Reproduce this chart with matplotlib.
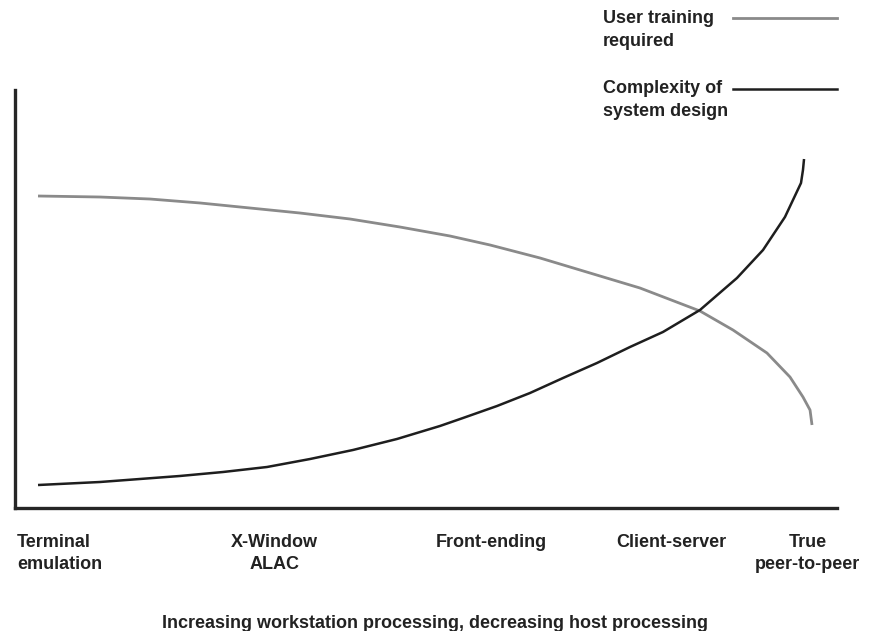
import matplotlib
matplotlib.use("Agg")
import matplotlib.pyplot as plt
from matplotlib.lines import Line2D

# position along the processing spectrum (0-100) and relative level (0-100)
training_x = [2.80, 10.34, 16.42, 22.51, 28.59, 34.67, 40.75, 46.84, 52.92, 57.79,
              63.87, 69.95, 76.03, 83.33, 87.35, 91.48, 94.28, 95.86, 96.72, 96.96]
training_y = [74.64, 74.40, 73.92, 72.97, 71.77, 70.57, 69.14, 67.22, 65.07, 62.92,
              59.81, 56.22, 52.63, 47.13, 42.58, 37.08, 31.34, 26.56, 23.44, 19.86]

complexity_x = [2.80, 10.34, 20.07, 25.30, 30.66, 35.89, 41.12, 46.47, 51.70, 54.50, 58.64,
                62.65, 66.67, 70.80, 74.82, 78.83, 83.33, 87.83, 91.00, 93.67, 95.62, 95.86, 95.99]
complexity_y = [5.50, 6.22, 7.66, 8.61, 9.81, 11.72, 13.88, 16.51, 19.62, 21.53, 24.40,
                27.51, 31.10, 34.69, 38.52, 42.11, 47.37, 55.02, 61.72, 69.62, 77.75, 80.86, 83.49]

tick_pos = [0.24, 31.6, 57.9, 79.8, 96.4]
tick_labels = ["Terminal\nemulation", "X-Window\nALAC", "Front-ending", "Client-server", "True\npeer-to-peer"]

series_labels = ["User training\nrequired", "Complexity of\nsystem design"]
xlabel = "Increasing workstation processing, decreasing host processing"

FONT = ["Liberation Sans Narrow", "Liberation Sans", "DejaVu Sans"]
TXT = "#222222"
GRAY = "#8a8a8a"
BLACK = "#1e1e1e"

W, H = 873, 631
fig = plt.figure(figsize=(W / 100, H / 100), dpi=100)
ax = fig.add_axes([15 / W, (H - 508) / H, 822 / W, 418 / H])

ax.plot(training_x, training_y, color=GRAY, lw=2.0, solid_capstyle="butt", solid_joinstyle="round")
ax.plot(complexity_x, complexity_y, color=BLACK, lw=1.8, solid_capstyle="butt", solid_joinstyle="round")

ax.set_xlim(0, 100)
ax.set_ylim(0, 100)
for s in ["top", "right"]:
    ax.spines[s].set_visible(False)
for s in ["left", "bottom"]:
    ax.spines[s].set_linewidth(2.4)
    ax.spines[s].set_color("#262626")
ax.set_yticks([])
ax.set_xticks(tick_pos, tick_labels)
ax.tick_params(axis="x", length=0, pad=19)
for i, lab in enumerate(ax.get_xticklabels()):
    lab.set_fontfamily(FONT)
    lab.set_fontweight("bold")
    lab.set_fontsize(13)
    lab.set_color(TXT)
    lab.set_linespacing(1.35)
    if i == 0:
        lab.set_ha("left")

fig.text(435 / W, 1 - 628 / H, xlabel, ha="center", va="baseline",
         fontfamily=FONT, fontweight="bold", fontsize=13, color=TXT)

# legend drawn by hand: text on the left, line sample on the right
legend_rows = [(series_labels[0], GRAY, 25, 18, 2.0), (series_labels[1], BLACK, 95, 89, 1.8)]
for text, col, base, ly, lw in legend_rows:
    fig.text(603 / W, 1 - (base - 15) / H, text, ha="left", va="top",
             fontfamily=FONT, fontweight="bold", fontsize=13, color=TXT, linespacing=1.45)
    fig.add_artist(Line2D([733 / W, 837 / W], [1 - ly / H, 1 - ly / H],
                          transform=fig.transFigure, color=col, lw=lw))

fig.savefig("out.png", dpi=100)
